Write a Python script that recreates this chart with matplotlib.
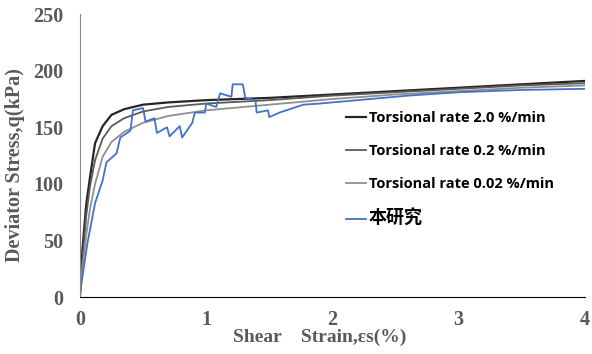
import matplotlib
matplotlib.use("Agg")
import matplotlib.pyplot as plt

strain_ref = [0, 0.02, 0.05, 0.08, 0.12, 0.18, 0.25, 0.35, 0.5, 0.7, 1.0, 1.5, 2.0, 2.5, 3.0, 3.5, 4.0]
q_2_0 = [0, 42, 82, 106, 136, 151, 161, 166, 170, 172, 174, 176, 179, 182, 185, 188, 191]
q_0_2 = [0, 32, 72, 98, 121, 140, 151, 158, 164, 168, 171, 174, 178, 181, 184, 187, 189]
q_0_02 = [0, 25, 55, 78, 100, 124, 137, 146, 154, 160, 165, 170, 175, 179, 182, 185, 187]

strain_this = [0, 0.06, 0.12, 0.18, 0.21, 0.29, 0.32, 0.40, 0.42, 0.50, 0.52, 0.59, 0.61, 0.69,
               0.71, 0.79, 0.81, 0.89, 0.91, 0.99, 1.00, 1.08, 1.11, 1.20, 1.21, 1.29, 1.31,
               1.39, 1.40, 1.49, 1.50, 1.58, 1.77, 1.90, 2.2, 2.6, 3.0, 3.5, 4.0]
q_this = [3, 48, 83, 103, 119, 127, 141, 147, 165, 167, 155, 158, 145, 150,
          142, 151, 141, 154, 163, 163, 171, 168, 180, 177, 188, 188, 176,
          174, 163, 165, 159, 163, 170, 171, 174, 178, 181, 183, 184]

labels = ["Torsional rate 2.0 %/min", "Torsional rate 0.2 %/min",
          "Torsional rate 0.02 %/min", "本研究"]
colors = ["#262626", "#5a5a5a", "#8f8f8f", "#4472C4"]

fig = plt.figure(figsize=(5.92, 3.54), dpi=100)
ax = fig.add_axes([0.135, 0.161, 0.853, 0.799])

ax.plot(strain_ref, q_2_0, color=colors[0], lw=1.6, label=labels[0])
ax.plot(strain_ref, q_0_2, color=colors[1], lw=1.3, label=labels[1])
ax.plot(strain_ref, q_0_02, color=colors[2], lw=1.3, label=labels[2])
ax.plot(strain_this, q_this, color=colors[3], lw=1.3, label=labels[3])

ax.set_xlim(0, 4)
ax.set_ylim(0, 250)
ax.set_xticks([0, 1, 2, 3, 4])
ax.set_yticks([0, 50, 100, 150, 200, 250])
for s in ["top", "right"]:
    ax.spines[s].set_visible(False)
ax.spines["left"].set_color("#888888")
ax.spines["bottom"].set_color("#000000")
ax.tick_params(axis="y", length=0, pad=12, labelsize=14.5, colors="#595959")
ax.tick_params(axis="x", length=0, pad=9, labelsize=14.5, colors="#595959")
for t in ax.get_xticklabels() + ax.get_yticklabels():
    t.set_fontfamily("Liberation Serif")
    t.set_fontweight("bold")

ax.set_xlabel("Shear    Strain,εs(%)", fontfamily="Liberation Serif", fontweight="bold",
              fontsize=14, color="#595959", va="center")
ax.set_ylabel("Deviator Stress,q(kPa)", fontfamily="Liberation Serif", fontweight="bold",
              fontsize=14.5, color="#595959", va="center")
ax.xaxis.set_label_coords(0.475, -0.141)
ax.yaxis.set_label_coords(-0.129, 0.466)

leg = ax.legend(loc="upper left", bbox_to_anchor=(0.5, 0.705), frameon=False,
                handlelength=1.4, handletextpad=0.2, labelspacing=1.3,
                prop={"family": ["Open Sans", "Noto Sans CJK SC"], "weight": "bold", "size": 10.5})
leg.get_texts()[3].set_fontsize(13)

fig.savefig("out.png", dpi=100)
